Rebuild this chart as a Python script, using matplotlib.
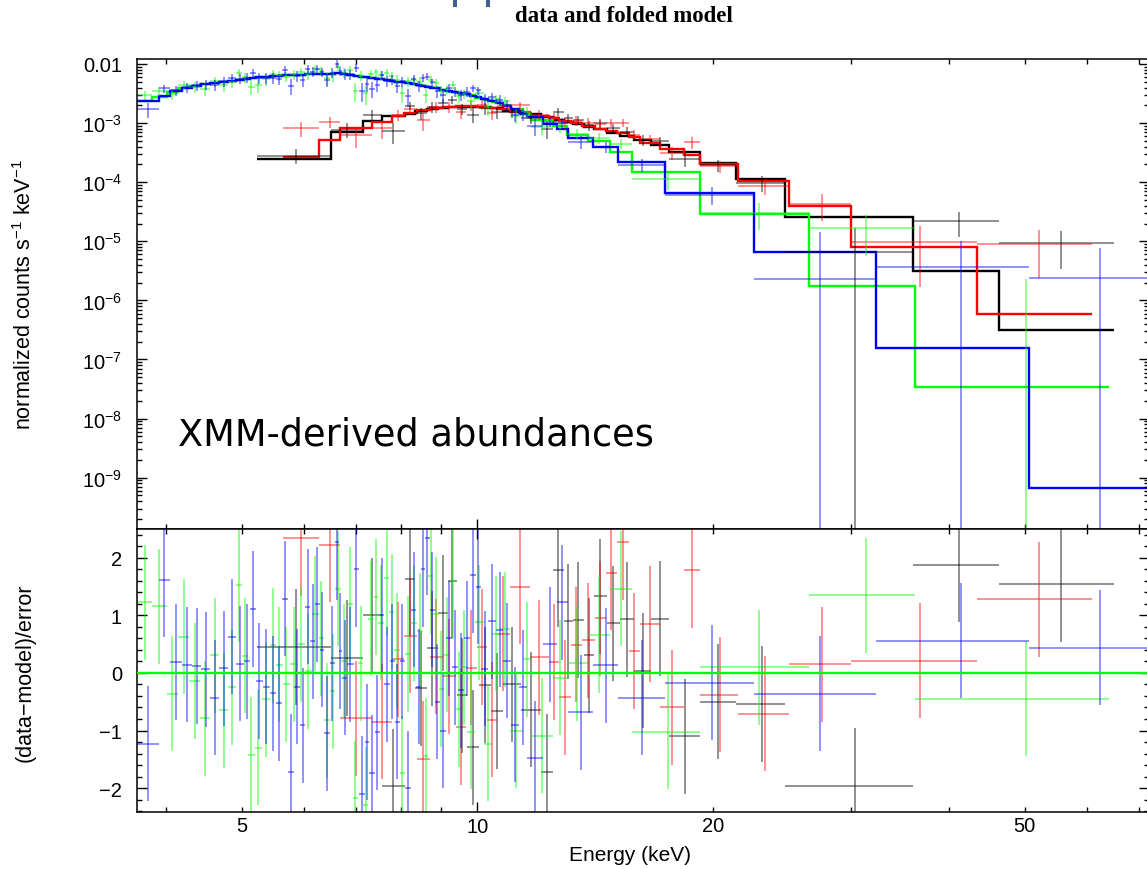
import numpy as np
import matplotlib
matplotlib.use("Agg")
import matplotlib.pyplot as plt
from matplotlib.ticker import (FixedLocator, FixedFormatter, LogLocator,
                               NullFormatter, MultipleLocator, FuncFormatter)
from matplotlib.patches import Rectangle

plt.rcParams['font.family'] = ['Liberation Sans', 'DejaVu Sans']
plt.rcParams['mathtext.fontset'] = 'custom'
plt.rcParams['mathtext.rm'] = 'Liberation Sans'
plt.rcParams['mathtext.it'] = 'Liberation Sans:italic'
plt.rcParams['mathtext.bf'] = 'Liberation Sans:bold'

# ---- data group 1 (black): bin edges (keV), folded model, residual, sigma/model
black_edges = [5.24, 6.51, 7.14, 7.55, 8.08, 8.32, 8.62, 8.90, 9.17, 9.42,
               9.70, 10.04, 10.40, 10.78, 11.36, 12.05, 12.48, 12.89, 13.24, 13.67,
               14.08, 14.63, 15.20, 15.84, 16.69, 17.57, 19.24, 21.39, 24.74, 36.00,
               46.36, 65.01]
black_model = [2.45e-4, 7.2e-4, 1.1e-3, 1.3e-3, 1.45e-3, 1.58e-3, 1.7e-3, 1.8e-3, 1.87e-3, 1.9e-3,
               1.9e-3, 1.85e-3, 1.78e-3, 1.63e-3, 1.42e-3, 1.25e-3, 1.12e-3, 1.03e-3, 9.5e-4, 8.6e-4,
               7.8e-4, 6.9e-4, 6.0e-4, 5.1e-4, 4.2e-4, 3.2e-4, 2.15e-4, 1.13e-4, 2.6e-5, 3.2e-6,
               3.2e-7]
black_resid = [0.45, 0.26, 1.0, -1.97, 1.64, -0.27, 0.43, 1.04, 1.6, -0.39,
               -1.29, -0.21, -0.66, -0.2, -0.64, -1.72, 1.79, 0.9, 0.92, 0.31,
               1.33, 0.86, 0.93, 0.04, 0.94, -1.1, -0.5, -0.54, -1.96, 1.88,
               1.54]
black_relerr = [0.33, 0.3, 0.25, 0.22, 0.22, 0.22, 0.22, 0.21, 0.21, 0.21,
                0.21, 0.21, 0.21, 0.2, 0.2, 0.21, 0.21, 0.21, 0.21, 0.21,
                0.21, 0.21, 0.21, 0.21, 0.21, 0.21, 0.2, 0.25, 0.38, 3.1,
                18.0]

# ---- data group 2 (red)
red_edges = [5.64, 6.28, 6.68, 7.33, 7.78, 8.06, 8.37, 8.70, 9.03, 9.39,
             9.67, 9.98, 10.28, 10.59, 11.00, 11.67, 12.34, 12.71, 13.16, 13.60,
             14.12, 14.59, 15.07, 15.61, 16.12, 17.11, 18.36, 19.27, 21.55, 25.03,
             30.03, 43.48, 60.94]
red_model = [2.64e-4, 5.25e-4, 8.2e-4, 1.05e-3, 1.3e-3, 1.5e-3, 1.65e-3, 1.78e-3, 1.88e-3, 1.92e-3,
             1.93e-3, 1.88e-3, 1.8e-3, 1.72e-3, 1.55e-3, 1.32e-3, 1.2e-3, 1.1e-3, 1.0e-3, 9.0e-4,
             8.1e-4, 7.4e-4, 6.7e-4, 5.9e-4, 4.6e-4, 3.6e-4, 2.9e-4, 2.0e-4, 1.06e-4, 4.0e-5,
             8.1e-6, 6.0e-7]
red_resid = [2.34, 2.23, -0.79, -0.85, 0.24, 0.65, -1.49, 0.28, -0.06, -0.94,
             0.09, 0.45, -0.81, 0.68, 1.5, 0.27, 0.19, -0.42, 0.49, 0.57,
             0.95, 1.74, 2.27, 0.38, 0.85, -0.6, 1.78, -0.38, -0.71, 0.15,
             0.21, 1.28]
red_relerr = [0.9, 0.45, 0.3, 0.26, 0.22, 0.22, 0.22, 0.21, 0.2, 0.2,
              0.2, 0.2, 0.2, 0.2, 0.19, 0.19, 0.21, 0.21, 0.21, 0.21,
              0.21, 0.22, 0.22, 0.22, 0.21, 0.22, 0.35, 0.2, 0.25, 0.53,
              1.0, 10.8]

# ---- data group 3 (green)
green_edges = [3.68, 3.84, 4.01, 4.15, 4.29, 4.42, 4.56, 4.68, 4.81, 4.92,
               5.01, 5.09, 5.20, 5.31, 5.43, 5.53, 5.64, 5.76, 5.90, 6.02,
               6.15, 6.27, 6.37, 6.48, 6.59, 6.69, 6.81, 6.93, 7.05, 7.15,
               7.26, 7.37, 7.47, 7.60, 7.72, 7.83, 7.96, 8.09, 8.22, 8.37,
               8.52, 8.66, 8.79, 8.93, 9.07, 9.22, 9.39, 9.55, 9.71, 9.93,
               10.19, 10.44, 10.68, 11.00, 11.43, 11.70, 12.48, 13.01, 13.84, 14.76,
               15.75, 19.24, 26.52, 36.23, 64.07]
green_model = [2.35e-3, 2.8e-3, 3.4e-3, 3.85e-3, 4.25e-3, 4.5e-3, 4.8e-3, 5.0e-3, 5.2e-3, 5.45e-3,
               5.65e-3, 5.8e-3, 6.0e-3, 6.1e-3, 6.2e-3, 6.3e-3, 6.4e-3, 6.5e-3, 6.6e-3, 6.65e-3,
               6.7e-3, 6.75e-3, 6.8e-3, 6.85e-3, 7.0e-3, 6.9e-3, 6.5e-3, 6.3e-3, 6.15e-3, 6.0e-3,
               5.8e-3, 5.7e-3, 5.5e-3, 5.35e-3, 5.2e-3, 5.05e-3, 4.9e-3, 4.75e-3, 4.6e-3, 4.4e-3,
               4.2e-3, 4.05e-3, 3.9e-3, 3.7e-3, 3.55e-3, 3.4e-3, 3.25e-3, 3.1e-3, 2.95e-3, 2.7e-3,
               2.5e-3, 2.25e-3, 2.05e-3, 1.7e-3, 1.45e-3, 1.15e-3, 9.0e-4, 6.3e-4, 4.9e-4, 3.3e-4,
               1.51e-4, 2.88e-5, 1.77e-6, 3.4e-8]
green_resid = [1.23, 1.16, -0.36, 0.63, -0.14, -0.79, 0.31, -0.65, -0.25, 1.53,
               0.3, -1.42, -1.30, -0.46, 0.48, 0.14, -0.2, 0.15, 0.5, 0.03,
               1.03, 0.6, -0.82, -0.32, 1.46, 0.2, 1.19, -2.18, 0.17, -2.29,
               0.94, 1.32, 0.87, 1.65, 1.06, 0.39, -1.74, 0.33, 0.86, 0.73,
               -1.44, 1.68, 1.02, -0.28, 0.32, 1.59, -0.63, 0.1, -1.02, 0.88,
               -1.23, 0.68, 0.76, -1.0, 0.24, -1.09, -0.08, 0.17, 0.66, 1.46,
               -1.02, 0.1, 1.35, -0.45]
green_relerr = [0.22, 0.21, 0.2, 0.2, 0.2, 0.2, 0.2, 0.2, 0.2, 0.2,
                0.2, 0.2, 0.2, 0.2, 0.2, 0.2, 0.2, 0.2, 0.2, 0.2,
                0.2, 0.2, 0.2, 0.2, 0.2, 0.2, 0.2, 0.2, 0.2, 0.2,
                0.2, 0.2, 0.2, 0.2, 0.2, 0.2, 0.2, 0.2, 0.2, 0.2,
                0.2, 0.2, 0.2, 0.2, 0.2, 0.2, 0.2, 0.2, 0.2, 0.21,
                0.21, 0.21, 0.21, 0.22, 0.22, 0.22, 0.22, 0.22, 0.24, 0.25,
                0.25, 0.52, 6.2, 120.0]

# ---- data group 4 (blue)
blue_edges = [3.68, 3.92, 4.05, 4.20, 4.32, 4.44, 4.56, 4.68, 4.81, 4.92,
              5.03, 5.12, 5.22, 5.32, 5.43, 5.53, 5.63, 5.73, 5.83, 5.94,
              6.03, 6.12, 6.20, 6.29, 6.38, 6.48, 6.58, 6.65, 6.72, 6.82,
              6.95, 7.07, 7.18, 7.28, 7.40, 7.51, 7.61, 7.73, 7.85, 7.96,
              8.09, 8.23, 8.36, 8.47, 8.57, 8.69, 8.82, 8.96, 9.12, 9.28,
              9.45, 9.61, 9.79, 9.95, 10.12, 10.33, 10.56, 10.80, 11.04, 11.30,
              11.57, 12.13, 12.64, 13.05, 14.05, 15.12, 17.36, 22.55, 32.29, 50.64,
              74.0]
blue_model = [2.35e-3, 2.9e-3, 3.45e-3, 3.9e-3, 4.25e-3, 4.5e-3, 4.8e-3, 5.0e-3, 5.2e-3, 5.45e-3,
              5.65e-3, 5.8e-3, 6.0e-3, 6.1e-3, 6.2e-3, 6.3e-3, 6.4e-3, 6.5e-3, 6.55e-3, 6.6e-3,
              6.65e-3, 6.7e-3, 6.7e-3, 6.75e-3, 6.8e-3, 6.85e-3, 6.95e-3, 7.1e-3, 6.9e-3, 6.5e-3,
              6.3e-3, 6.1e-3, 5.95e-3, 5.8e-3, 5.65e-3, 5.5e-3, 5.35e-3, 5.2e-3, 5.05e-3, 4.9e-3,
              4.75e-3, 4.6e-3, 4.45e-3, 4.3e-3, 4.15e-3, 4.0e-3, 3.85e-3, 3.7e-3, 3.5e-3, 3.35e-3,
              3.2e-3, 3.05e-3, 2.9e-3, 2.75e-3, 2.55e-3, 2.35e-3, 2.15e-3, 1.95e-3, 1.72e-3, 1.5e-3,
              1.28e-3, 9.5e-4, 7.8e-4, 5.7e-4, 3.9e-4, 2.2e-4, 6.5e-5, 6.6e-6, 1.55e-7, 6.8e-10]
blue_resid = [-1.23, 1.62, 0.19, 0.14, 0.12, 0.06, -0.43, 0.08, 0.63, 0.16,
              0.20, 1.11, -0.14, -0.24, -0.35, -0.53, 1.29, -1.72, -0.24, -0.91,
              1.15, 0.55, 1.19, 0.40, -1.05, 0.17, 2.27, 0.38, -0.08, 0.15,
              1.8, -2.1, -1.2, -1.73, -1.03, 1.0, -0.2, 0.2, -0.85, 0.2,
              -2.0, 1.1, -0.24, 1.8, 2.35, 1.1, -0.5, -1.0, 0.6, 0.1,
              -0.3, 0.6, 1.7, 1.5, 0.07, 0.9, 0.75, 0.21, -0.9, -0.25,
              -1.48, 0.5, 1.23, -0.68, 0.13, -0.43, -0.17, -0.36, 0.56, 0.44]
blue_relerr = [0.22, 0.21, 0.2, 0.2, 0.2, 0.2, 0.2, 0.2, 0.2, 0.2,
               0.2, 0.2, 0.2, 0.2, 0.2, 0.2, 0.2, 0.2, 0.2, 0.2,
               0.2, 0.2, 0.2, 0.2, 0.2, 0.2, 0.2, 0.2, 0.2, 0.2,
               0.2, 0.2, 0.2, 0.2, 0.2, 0.2, 0.2, 0.2, 0.2, 0.2,
               0.2, 0.2, 0.2, 0.2, 0.2, 0.2, 0.2, 0.2, 0.2, 0.2,
               0.2, 0.2, 0.2, 0.2, 0.21, 0.21, 0.21, 0.21, 0.21, 0.21,
               0.21, 0.22, 0.24, 0.22, 0.22, 0.22, 0.32, 1.8, 41.0, 7900.0]

groups = [
    (black_edges, black_model, black_resid, black_relerr, '#000000'),
    (red_edges, red_model, red_resid, red_relerr, '#ff0000'),
    (green_edges, green_model, green_resid, green_relerr, '#00ff00'),
    (blue_edges, blue_model, blue_resid, blue_relerr, '#0000ff'),
]

W, H = 1147, 870
fig = plt.figure(figsize=(W / 100, H / 100), dpi=100)
ax1 = fig.add_axes([137.3 / W, 1 - 530 / H, (1149 - 137.3) / W, 470 / H])
ax2 = fig.add_axes([137.3 / W, 1 - 812.7 / H, (1149 - 137.3) / W, 282.7 / H])

ax1.set_xscale('log')
ax2.set_xscale('log')
ax1.set_yscale('log', nonpositive='clip')

for edges, model, resid, relerr, col in groups:
    edges = np.asarray(edges, float)
    model = np.asarray(model, float)
    resid = np.asarray(resid, float)
    sig = model * np.asarray(relerr, float)
    lo, hi = edges[:-1], edges[1:]
    xc = 0.5 * (lo + hi)
    data = model + resid * sig
    pos = data > 0

    # data crosses + folded model (upper panel)
    ax1.hlines(data[pos], lo[pos], hi[pos], colors=col, lw=1.1, alpha=0.55)
    ax1.vlines(xc, np.clip(data - sig, 1e-15, None), data + sig, colors=col, lw=1.1, alpha=0.55)
    ax1.stairs(model, edges, baseline=None, color=col, lw=1.7)

    # residuals (lower panel)
    ax2.hlines(resid, lo, hi, colors=col, lw=1.1, alpha=0.55)
    ax2.vlines(xc, resid - 1, resid + 1, colors=col, lw=1.1, alpha=0.55)

ax2.axhline(0, color='#00ff00', lw=1.7, zorder=5)

# axes ranges and ticks
for ax in (ax1, ax2):
    ax.set_xlim(3.68, 72.07)
    ax.xaxis.set_major_locator(FixedLocator([10]))
    ax.xaxis.set_minor_locator(FixedLocator([4, 5, 6, 7, 8, 9, 20, 30, 40, 50, 60, 70]))
    ax.tick_params(which='both', direction='in', top=True, right=True,
                   width=1.0, color='black', labelsize=14.5)
    ax.tick_params(which='major', length=7)
    ax.tick_params(which='minor', length=3.6)
    ax.tick_params(axis='y', pad=11)
    ax.tick_params(axis='x', pad=4)
    for s in ax.spines.values():
        s.set_linewidth(1.1)

ax1.xaxis.set_major_formatter(NullFormatter())
ax1.xaxis.set_minor_formatter(NullFormatter())
ax2.xaxis.set_major_formatter(FixedFormatter(['10']))
ax2.xaxis.set_minor_formatter(FixedFormatter(['', '5', '', '', '', '', '20', '', '', '50', '', '']))

ax1.set_ylim(1.355e-10, 0.01215)
ax1.yaxis.set_major_locator(LogLocator(base=10, numticks=20))
ax1.yaxis.set_minor_locator(LogLocator(base=10, subs=np.arange(2, 10), numticks=20))
ax1.yaxis.set_major_formatter(FuncFormatter(
    lambda v, p: '0.01' if abs(np.log10(v) + 2) < 0.01 else r'$10^{%d}$' % round(np.log10(v))))
ax1.yaxis.set_minor_formatter(NullFormatter())

ax2.set_ylim(-2.41, 2.5)
ax2.yaxis.set_major_locator(MultipleLocator(1))
ax2.yaxis.set_minor_locator(MultipleLocator(0.2))

# text
ax1.text(0.0402, 0.179, 'XMM-derived abundances', transform=ax1.transAxes,
         family='DejaVu Sans', fontsize=26.5, ha='left', va='baseline')
fig.text(624 / W, 1 - 17 / H, 'data and folded model', family='Liberation Serif',
         weight='bold', fontsize=16.5, ha='center', va='center')
fig.text(25 / W, 1 - 295 / H, r'normalized counts s$^{-1}$ keV$^{-1}$',
         rotation=90, ha='center', va='center', fontsize=15.5)
fig.text(25 / W, 1 - 673 / H, '(data\u2212model)/error',
         rotation=90, ha='center', va='center', fontsize=15.5)
fig.text(630 / W, 1 - 856 / H, 'Energy (keV)', ha='center', va='center', fontsize=15)

# two cut-off marks at the very top edge of the page
for x0 in (453, 486):
    fig.add_artist(Rectangle((x0 / W, 1 - 8 / H), 4 / W, 8 / H,
                             transform=fig.transFigure, color='#3f5f95', lw=0))

fig.savefig('out.png', dpi=100)
